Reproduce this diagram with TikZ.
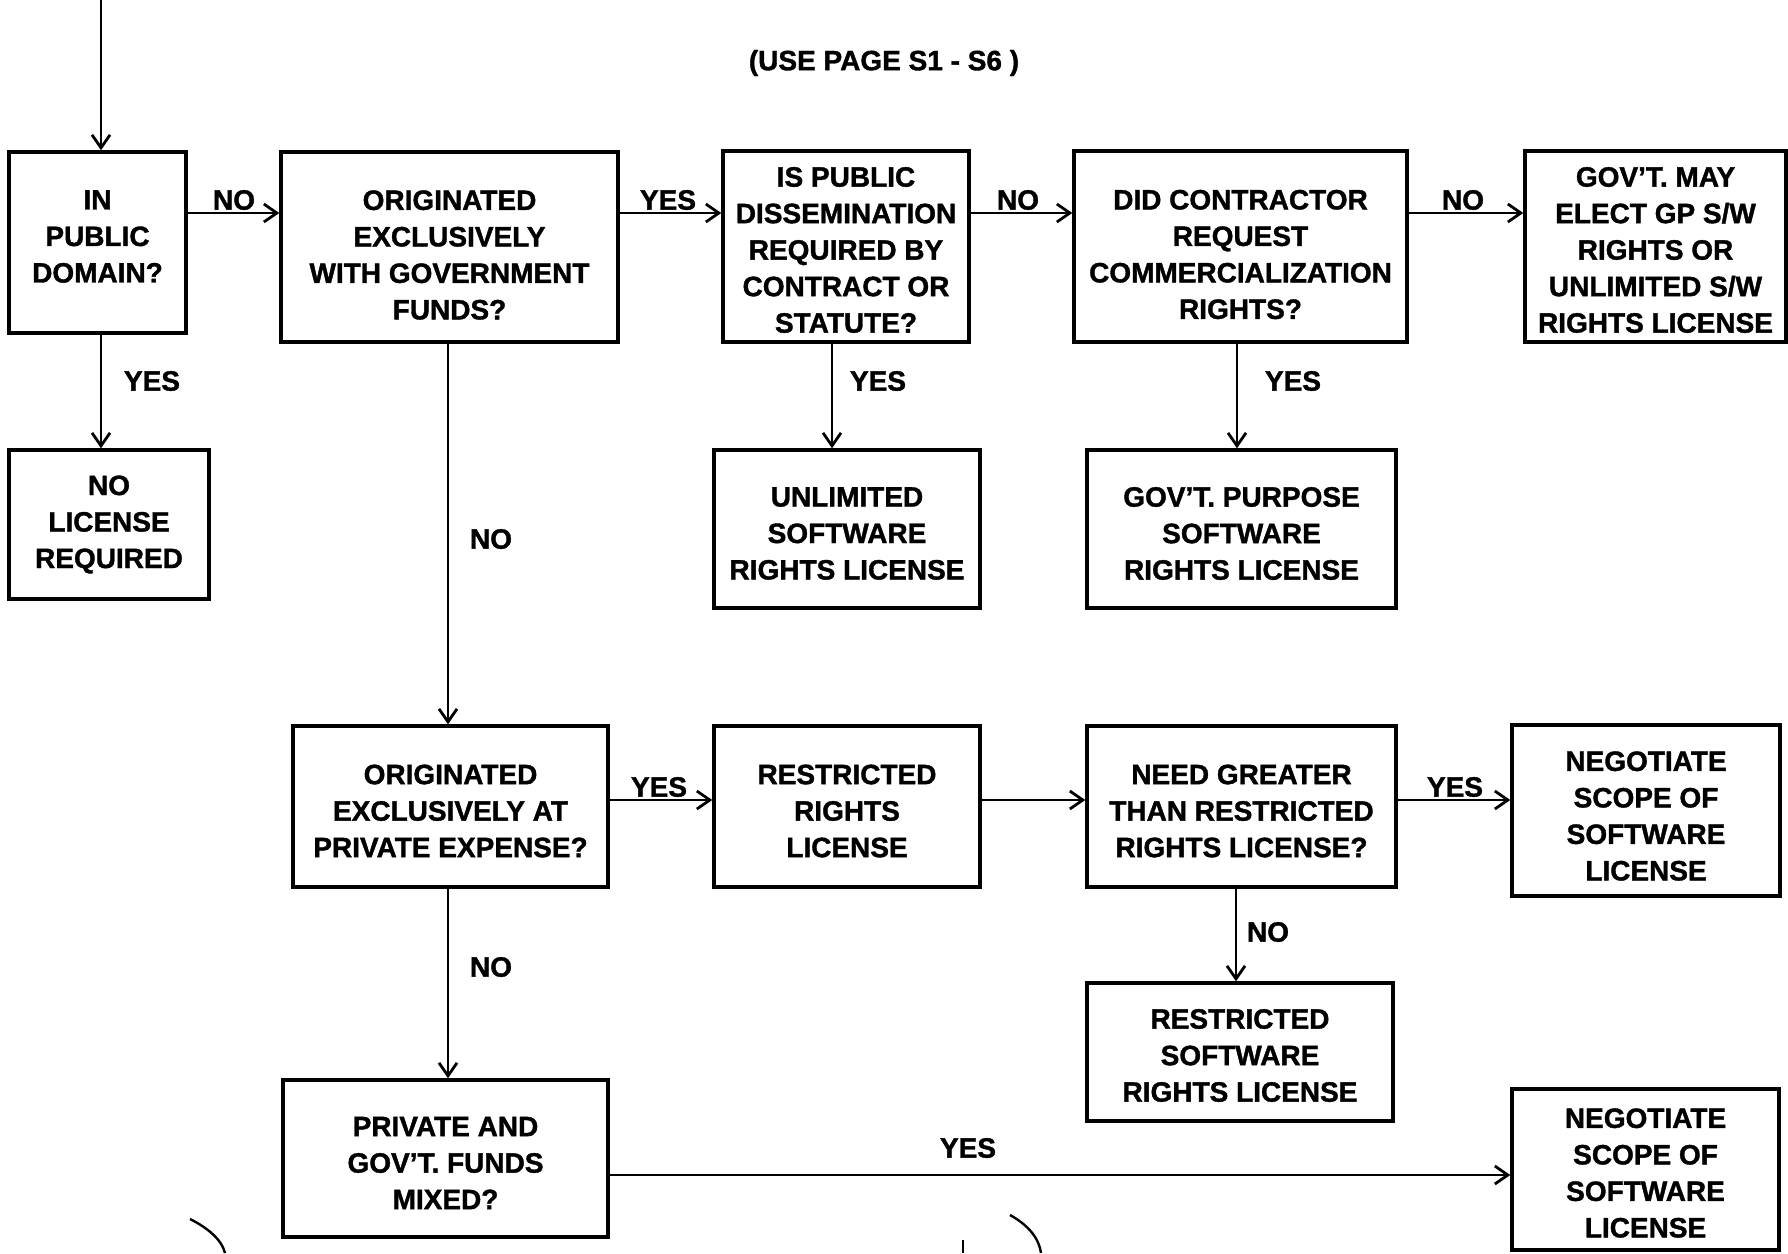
\documentclass[tikz,border=0pt]{standalone}
\usepackage{fontspec}
\setmainfont{Liberation Sans}[BoldFeatures={FakeBold=1.3}]
\usetikzlibrary{arrows.meta}
\begin{document}
\begin{tikzpicture}[x=1pt,y=-1pt,
  box/.style={draw,line width=3.4pt,inner sep=0pt},
  txt/.style={inner sep=0pt,align=center,
    font=\bfseries\fontsize{28}{36.5}\selectfont},
  lbl/.style={font=\bfseries\fontsize{28}{34}\selectfont,inner sep=0pt},
  flow/.style={line width=2.8pt,-{Straight Barb[length=13pt,width=18pt,line width=2.8pt]}},
  frag/.style={line width=2.4pt}]
\useasboundingbox[fill=white] (0,0) rectangle (1788,1253);

% boxes
\node[box,minimum width=177pt,minimum height=181pt] (A) at (97.5,242.5) {};
\node[box,minimum width=337pt,minimum height=190pt] (B) at (449.5,247) {};
\node[box,minimum width=246pt,minimum height=191pt] (C) at (846,246.5) {};
\node[box,minimum width=333pt,minimum height=191pt] (D) at (1240.5,246.5) {};
\node[box,minimum width=261pt,minimum height=191pt] (E) at (1655.5,246.5) {};
\node[box,minimum width=200pt,minimum height=149pt] (F) at (109,524.5) {};
\node[box,minimum width=266pt,minimum height=158pt] (G) at (847,529) {};
\node[box,minimum width=309pt,minimum height=158pt] (H) at (1241.5,529) {};
\node[box,minimum width=315pt,minimum height=161pt] (I) at (450.5,806.5) {};
\node[box,minimum width=266pt,minimum height=161pt] (J) at (847,806.5) {};
\node[box,minimum width=309pt,minimum height=161pt] (K) at (1241.5,806.5) {};
\node[box,minimum width=268pt,minimum height=171pt] (L) at (1646,810.5) {};
\node[box,minimum width=306pt,minimum height=138pt] (M) at (1240,1052) {};
\node[box,minimum width=325pt,minimum height=157pt] (N) at (445.5,1158.5) {};
\node[box,minimum width=267pt,minimum height=161pt] (O) at (1645.5,1169.5) {};

% box texts
\node[txt,yshift=6pt] (At) at (A) {IN\\PUBLIC\\DOMAIN?};
\node[txt,yshift=-8pt] (Bt) at (B) {ORIGINATED\\EXCLUSIVELY\\WITH GOVERNMENT\\FUNDS?};
\node[txt,yshift=-3.5pt] (Ct) at (C) {IS PUBLIC\\DISSEMINATION\\REQUIRED BY\\CONTRACT OR\\STATUTE?};
\node[txt,yshift=-8pt] (Dt) at (D) {DID CONTRACTOR\\REQUEST\\COMMERCIALIZATION\\RIGHTS?};
\node[txt,yshift=-3.5pt] (Et) at (E) {GOV'T. MAY\\ELECT GP S/W\\RIGHTS OR\\UNLIMITED S/W\\RIGHTS LICENSE};
\node[txt] (Ft) at (F) {NO\\LICENSE\\REQUIRED};
\node[txt,yshift=-4.5pt] (Gt) at (G) {UNLIMITED\\SOFTWARE\\RIGHTS LICENSE};
\node[txt,yshift=-4.5pt] (Ht) at (H) {GOV'T. PURPOSE\\SOFTWARE\\RIGHTS LICENSE};
\node[txt,yshift=-4.5pt] (It) at (I) {ORIGINATED\\EXCLUSIVELY AT\\PRIVATE EXPENSE?};
\node[txt,yshift=-4.5pt] (Jt) at (J) {RESTRICTED\\RIGHTS\\LICENSE};
\node[txt,yshift=-4.5pt] (Kt) at (K) {NEED GREATER\\THAN RESTRICTED\\RIGHTS LICENSE?};
\node[txt,yshift=-5.5pt] (Lt) at (L) {NEGOTIATE\\SCOPE OF\\SOFTWARE\\LICENSE};
\node[txt,yshift=-3.5pt] (Mt) at (M) {RESTRICTED\\SOFTWARE\\RIGHTS LICENSE};
\node[txt,yshift=-4.5pt] (Nt) at (N) {PRIVATE AND\\GOV'T. FUNDS\\MIXED?};
\node[txt,yshift=-3.5pt] (Ot) at (O) {NEGOTIATE\\SCOPE OF\\SOFTWARE\\LICENSE};

\node[lbl] (use) at (884,63) {(USE PAGE S1 - S6 )};

% connectors
\coordinate (top) at (101,0);
\draw[flow] (top) -- (A.north -| top);
\draw[flow] (A.east |- 0,213) -- (B.west |- 0,213);
\draw[flow] (B.east |- 0,213) -- (C.west |- 0,213);
\draw[flow] (C.east |- 0,213) -- (D.west |- 0,213);
\draw[flow] (D.east |- 0,213) -- (E.west |- 0,213);
\draw[flow] (A.south -| 101,0) -- (F.north -| 101,0);
\draw[flow] (C.south -| 832,0) -- (G.north -| 832,0);
\draw[flow] (D.south -| 1237,0) -- (H.north -| 1237,0);
\draw[flow] (B.south -| 448,0) -- (I.north -| 448,0);
\draw[flow] (I.east |- 0,800) -- (J.west |- 0,800);
\draw[flow] (J.east |- 0,800) -- (K.west |- 0,800);
\draw[flow] (K.east |- 0,800) -- (L.west |- 0,800);
\draw[flow] (K.south -| 1236,0) -- (M.north -| 1236,0);
\draw[flow] (I.south -| 448,0) -- (N.north -| 448,0);
\draw[flow] (N.east |- 0,1175) -- (O.west |- 0,1175);

% labels
\node[lbl] at (234,200) {NO};
\node[lbl] at (668,200) {YES};
\node[lbl] at (1018,200) {NO};
\node[lbl] at (1463,200) {NO};
\node[lbl] at (152,381) {YES};
\node[lbl] at (878,381) {YES};
\node[lbl] at (1293,381) {YES};
\node[lbl] at (491,539) {NO};
\node[lbl] at (659,787) {YES};
\node[lbl] at (1455,787) {YES};
\node[lbl] at (1268,932) {NO};
\node[lbl] at (491,967) {NO};
\node[lbl] at (968,1148) {YES};

% fragments at the bottom edge
\draw[frag] (190,1219) .. controls (208,1228) and (222,1240) .. (225,1253);
\draw[frag] (1010,1215) .. controls (1028,1225) and (1039,1238) .. (1041,1253);
\draw[frag] (963,1240) -- (963,1253);
\end{tikzpicture}
\end{document}
